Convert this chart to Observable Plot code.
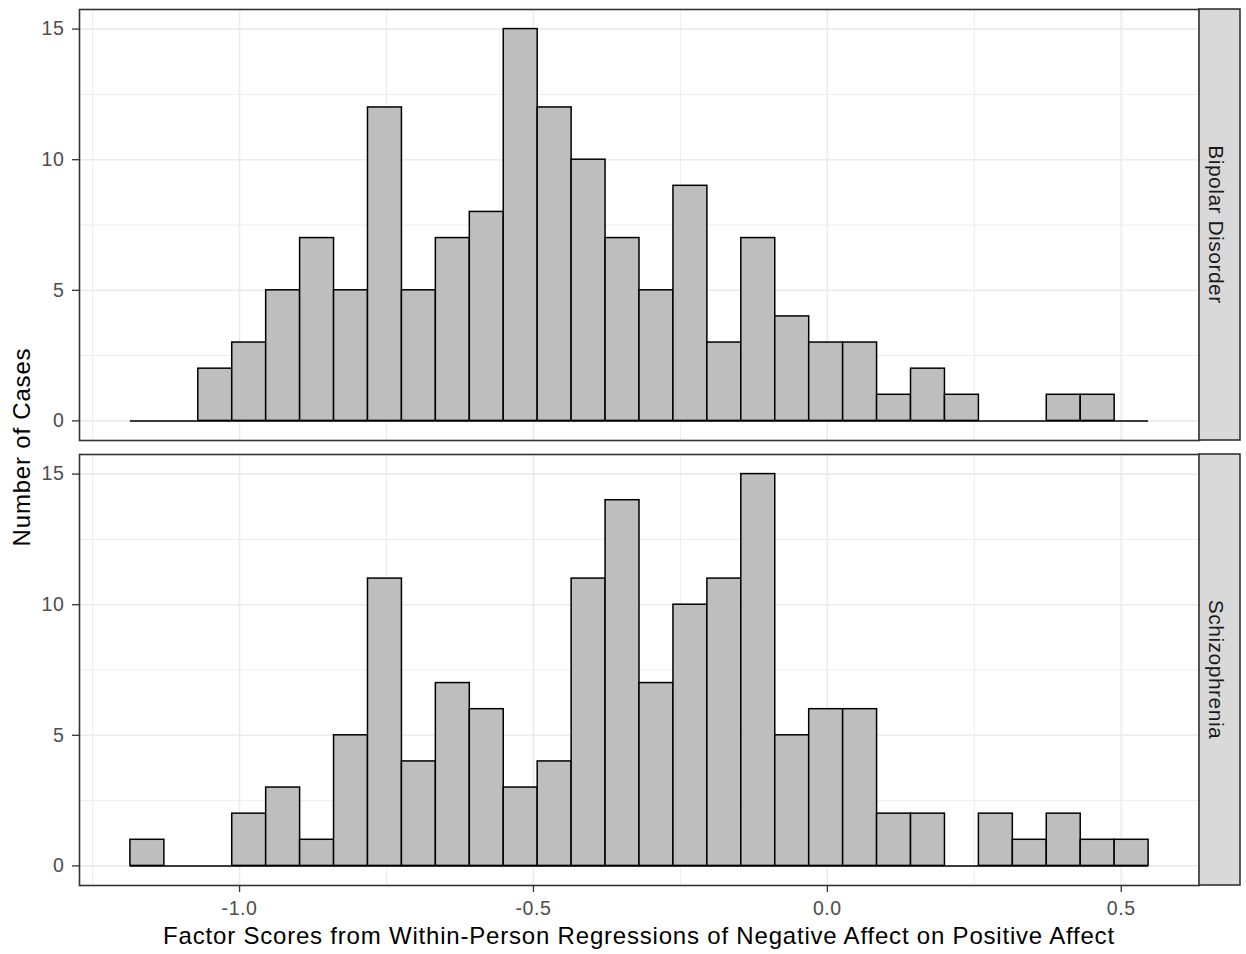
<!DOCTYPE html>
<html>
<head>
<meta charset="utf-8">
<script src="https://cdn.jsdelivr.net/npm/d3@7"></script>
<script src="https://cdn.jsdelivr.net/npm/@observablehq/plot@0.6"></script>
<style>
  html, body { margin: 0; padding: 0; background: #ffffff; }
  #chart svg { display: block; }
  #chart svg g[aria-label*="tick label"] text { letter-spacing: 0.6px; }
</style>
</head>
<body>
<div id="chart"></div>
<script>
// ---- Data ----
const groups = ["Bipolar Disorder", "Schizophrenia"];
const binStart = -1.1857;   // left edge of first histogram bin
const binWidth = 0.05774;   // width of each of the 30 bins
const bipolarCounts = [0, 0, 2, 3, 5, 7, 5, 12, 5, 7, 8, 15, 12, 10, 7, 5, 9, 3, 7, 4, 3, 3, 1, 2, 1, 0, 0, 1, 1, 0];
const schizophreniaCounts = [1, 0, 0, 2, 3, 1, 5, 11, 4, 7, 6, 3, 4, 11, 14, 7, 10, 11, 15, 5, 6, 6, 2, 2, 0, 2, 1, 2, 1, 1];
const xTicks = [-1, -0.5, 0, 0.5];
const xTickLabels = ["-1.0", "-0.5", "0.0", "0.5"];
const xMinorTicks = [-1.25, -0.75, -0.25, 0.25];
const yTicks = [0, 5, 10, 15];
const yTickLabels = ["0", "5", "10", "15"];
const yMinorTicks = [2.5, 7.5, 12.5];
const xTitle = "Factor Scores from Within-Person Regressions of Negative Affect on Positive Affect";
const yTitle = "Number of Cases";

// ---- Build table ----
const countsByGroup = {"Bipolar Disorder": bipolarCounts, "Schizophrenia": schizophreniaCounts};
const bins = [];
for (const g of groups) {
  countsByGroup[g].forEach((c, i) => {
    bins.push({group: g, x1: binStart + i * binWidth, x2: binStart + (i + 1) * binWidth, count: c});
  });
}
const xLo = binStart, xHi = binStart + bipolarCounts.length * binWidth;
const xPad = (xHi - xLo) * 0.05;
const yPad = 15 * 0.05;

// ---- Layout ----
const W = 1246, H = 954;
const mL = 79, mR = 47, mT = 9, mB = 69;
const gap = 14;
const step = (H - mT - mB + gap) / groups.length;
const font = "'Liberation Sans', Arial, Helvetica, sans-serif";

const plot = Plot.plot({
  width: W,
  height: H,
  marginLeft: mL,
  marginRight: mR,
  marginTop: mT,
  marginBottom: mB,
  facet: {marginTop: 0, marginBottom: 0, marginLeft: 0, marginRight: 0},
  style: {fontFamily: font, fontSize: "19.5px", background: "#ffffff", overflow: "visible"},
  x: {domain: [xLo - xPad, xHi + xPad]},
  y: {domain: [-yPad, 15 + yPad]},
  fy: {domain: groups, paddingInner: gap / step, paddingOuter: 0, axis: null},
  marks: [
    Plot.gridY(yMinorTicks, {stroke: "#EBEBEB", strokeOpacity: 1, strokeWidth: 0.9}),
    Plot.gridX(xMinorTicks, {stroke: "#EBEBEB", strokeOpacity: 1, strokeWidth: 0.9}),
    Plot.gridY(yTicks, {stroke: "#EBEBEB", strokeOpacity: 1, strokeWidth: 1.6}),
    Plot.gridX(xTicks, {stroke: "#EBEBEB", strokeOpacity: 1, strokeWidth: 1.6}),
    Plot.rect(bins, {
      x1: "x1", x2: "x2", y1: () => 0, y2: "count", fy: "group",
      fill: "#BEBEBE", stroke: "#000000", strokeWidth: 1.5
    }),
    Plot.ruleY([0], {x1: xLo, x2: xHi, stroke: "#000000", strokeWidth: 1.5}),
    Plot.frame({stroke: "#333333", strokeWidth: 1.6}),
    Plot.axisY(yTicks, {
      anchor: "left", tickSize: 7, tickPadding: 8, label: null,
      tickFormat: d => yTickLabels[yTicks.indexOf(d)],
      fill: "#4D4D4D", stroke: "#333333", strokeWidth: 1.3, fontSize: 19.5
    }),
    Plot.axisX(xTicks, {
      anchor: "bottom", tickSize: 7, tickPadding: 9, label: null,
      tickFormat: d => xTickLabels[xTicks.indexOf(d)],
      fill: "#4D4D4D", stroke: "#333333", strokeWidth: 1.3, fontSize: 19.5
    })
  ]
});

document.getElementById("chart").appendChild(plot);

// ---- Strips and axis titles (positioned from Plot's own scales) ----
const svg = d3.select(plot);
const fyScale = plot.scale("fy");
let bandTop, bandwidth;
if (fyScale && typeof fyScale.apply === "function") {
  bandTop = g => fyScale.apply(g);
  bandwidth = fyScale.bandwidth;
} else {
  const b = d3.scaleBand(groups, [mT, H - mB]).paddingInner(gap / step).paddingOuter(0);
  bandTop = g => b(g);
  bandwidth = b.bandwidth();
}
const stripX = W - mR;
const stripW = 41;
const strips = svg.append("g").attr("class", "strips");
for (const g of groups) {
  const top = bandTop(g);
  strips.append("rect")
    .attr("x", stripX).attr("y", top)
    .attr("width", stripW).attr("height", bandwidth)
    .attr("fill", "#D9D9D9").attr("stroke", "#333333").attr("stroke-width", 1.6);
  strips.append("text")
    .attr("transform", `translate(${stripX + stripW / 2},${top + bandwidth / 2}) rotate(90)`)
    .attr("text-anchor", "middle").attr("dy", "0.52em")
    .attr("font-family", font).attr("font-size", 21).attr("letter-spacing", "0.5px")
    .attr("fill", "#1A1A1A")
    .text(g);
}
svg.append("text")
  .attr("x", (mL + W - mR) / 2).attr("y", 944)
  .attr("text-anchor", "middle")
  .attr("font-family", font).attr("font-size", 24).attr("letter-spacing", "0.8px")
  .attr("fill", "#000000")
  .text(xTitle);
svg.append("text")
  .attr("transform", `translate(30,${(mT + H - mB) / 2}) rotate(-90)`)
  .attr("text-anchor", "middle")
  .attr("font-family", font).attr("font-size", 24).attr("letter-spacing", "0.8px")
  .attr("fill", "#000000")
  .text(yTitle);
</script>
</body>
</html>
